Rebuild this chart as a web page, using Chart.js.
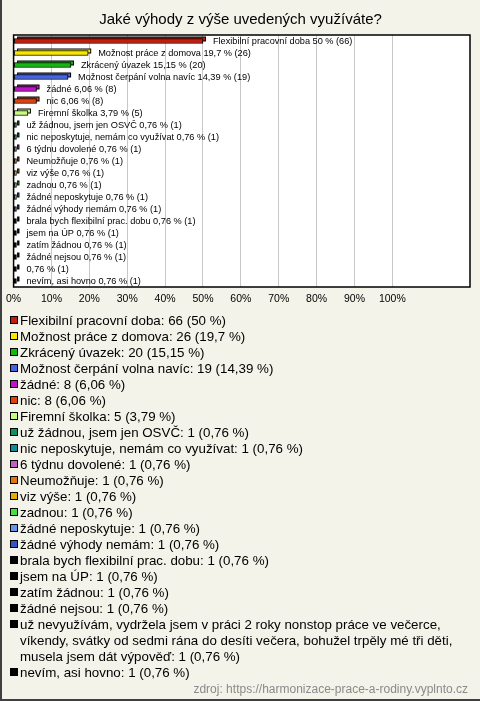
<!DOCTYPE html>
<html>
<head>
<meta charset="utf-8">
<script src="https://cdn.jsdelivr.net/npm/chart.js@4/dist/chart.umd.min.js"></script>
<style>
html, body { margin: 0; padding: 0; background: #f4f3ea; }
canvas { display: block; }
</style>
</head>
<body>
<canvas id="chart" width="480" height="701"></canvas>
<script>
const chartTitle = "Jaké výhody z výše uvedených využíváte?";
const sourceText = "zdroj: https://harmonizace-prace-a-rodiny.vyplnto.cz";

const categories = [
    "Flexibilní pracovní doba",
    "Možnost práce z domova",
    "Zkrácený úvazek",
    "Možnost čerpání volna navíc",
    "žádné",
    "nic",
    "Firemní školka",
    "už žádnou, jsem jen OSVČ",
    "nic neposkytuje, nemám co využívat",
    "6 týdnu dovolené",
    "Neumožňuje",
    "viz výše",
    "zadnou",
    "žádné neposkytuje",
    "žádné výhody nemám",
    "brala bych flexibilní prac. dobu",
    "jsem na ÚP",
    "zatím žádnou",
    "žádné nejsou",
    "už nevyužívám, vydržela jsem v práci 2 roky nonstop práce ve večerce, víkendy, svátky od sedmi rána do desíti večera, bohužel trpěly mé tři děti, musela jsem dát výpověď",
    "nevím, asi hovno"
];
const counts = [66, 26, 20, 19, 8, 8, 5, 1, 1, 1, 1, 1, 1, 1, 1, 1, 1, 1, 1, 1, 1];
const percents = [50, 19.7, 15.15, 14.39, 6.06, 6.06, 3.79, 0.76, 0.76, 0.76, 0.76, 0.76, 0.76, 0.76, 0.76, 0.76, 0.76, 0.76, 0.76, 0.76, 0.76];
const colors = [
    "#c41d0c", "#f8e600", "#10b810", "#4464e0", "#c010c8", "#e0400c", "#c8fa80",
    "#10905c", "#138a98", "#c060c4", "#e07414", "#e0b008", "#44e044", "#6c94e4",
    "#3454c4", "#000000", "#000000", "#000000", "#000000", "#000000", "#000000"
];
const tickValues = [0, 10, 20, 30, 40, 50, 60, 70, 80, 90, 100];

const fontFamily = '"Liberation Sans", Arial, sans-serif';

const fmt = function (p) {
    return String(p).replace(".", ",");
};

// page background, white plot area
const backgroundPlugin = {
    id: "background",
    beforeDraw(chart) {
        const { ctx, chartArea: a } = chart;
        ctx.save();
        ctx.fillStyle = "#f4f3ea";
        ctx.fillRect(0, 0, chart.width, chart.height);
        ctx.fillStyle = "#ffffff";
        ctx.fillRect(a.left, a.top, a.right - a.left, a.bottom - a.top);
        ctx.restore();
    }
};

// back face of each bar, gives the 3D look
const depthPlugin = {
    id: "depth",
    beforeDatasetsDraw(chart) {
        const ctx = chart.ctx;
        const meta = chart.getDatasetMeta(0);
        ctx.save();
        meta.data.forEach((bar, i) => {
            const h = bar.height;
            const x0 = bar.base + 3;
            const x1 = bar.x + 3;
            const y0 = bar.y - h / 2 - 2;
            ctx.fillStyle = "#000";
            ctx.fillRect(x0, y0, x1 - x0, h);
            ctx.fillStyle = colors[i];
            ctx.fillRect(x0 + 1, y0 + 1, x1 - x0 - 2, h - 2);
        });
        ctx.restore();
    }
};

const barLabelPlugin = {
    id: "barLabels",
    afterDatasetsDraw(chart) {
        const ctx = chart.ctx;
        const meta = chart.getDatasetMeta(0);
        ctx.save();
        ctx.font = "9.2px " + fontFamily;
        ctx.fillStyle = "#000";
        ctx.textBaseline = "middle";
        meta.data.forEach((bar, i) => {
            const name = categories[i].length > 60 ? "" : categories[i] + " ";
            ctx.fillText(name + fmt(percents[i]) + " % (" + counts[i] + ")", bar.x + 10, bar.y);
        });
        ctx.restore();
    }
};

const wrapText = function (ctx, text, maxWidth) {
    const words = text.split(" ");
    const lines = [];
    let line = "";
    words.forEach(w => {
        const test = line === "" ? w : line + " " + w;
        if (ctx.measureText(test).width > maxWidth && line !== "") {
            lines.push(line);
            line = w;
        } else {
            line = test;
        }
    });
    lines.push(line);
    return lines;
};

// plot border, legend below, source line, outer frame
const frameLegendPlugin = {
    id: "frameLegend",
    afterDraw(chart) {
        const { ctx, chartArea: a } = chart;
        ctx.save();
        ctx.strokeStyle = "#000";
        ctx.lineWidth = 1.5;
        ctx.strokeRect(a.left, a.top, a.right - a.left, a.bottom - a.top);

        ctx.font = "13.33px " + fontFamily;
        ctx.textBaseline = "middle";
        let y = 320;
        categories.forEach((c, i) => {
            const text = c + ": " + counts[i] + " (" + fmt(percents[i]) + " %)";
            const lines = wrapText(ctx, text, 444);
            ctx.fillStyle = "#000";
            ctx.fillRect(10, y - 4, 8, 8);
            ctx.fillStyle = colors[i];
            ctx.fillRect(11, y - 3, 6, 6);
            ctx.fillStyle = "#000";
            lines.forEach(l => {
                ctx.fillText(l, 20, y + 1);
                y += 16;
            });
        });

        ctx.font = "12px " + fontFamily;
        ctx.fillStyle = "#8a8a8a";
        ctx.textAlign = "right";
        ctx.fillText(sourceText, 468, 690);

        ctx.fillStyle = "#404040";
        ctx.fillRect(0, 0, 2, chart.height);
        ctx.fillRect(0, chart.height - 2, chart.width, 2);
        ctx.restore();
    }
};

Chart.defaults.font.family = fontFamily;
Chart.defaults.color = "#000";

const ctx = document.getElementById("chart").getContext("2d");
const chart = new Chart(ctx, {
    type: "bar",
    data: {
        labels: categories,
        datasets: [{
            data: percents,
            backgroundColor: colors,
            borderColor: "#000",
            borderWidth: 1,
            borderSkipped: false,
            barThickness: 5
        }]
    },
    options: {
        indexAxis: "y",
        responsive: false,
        animation: false,
        layout: { padding: { left: 11, right: 10, top: 0, bottom: 0 } },
        plugins: {
            legend: { display: false },
            tooltip: { enabled: false },
            title: {
                display: true,
                text: chartTitle,
                color: "#000",
                font: { size: 15, weight: "normal" },
                padding: { top: 11, bottom: 6 }
            }
        },
        scales: {
            x: {
                type: "linear",
                min: 0,
                max: 120.5,
                afterBuildTicks: (scale) => {
                    scale.ticks = tickValues.map(v => ({ value: v }));
                },
                afterFit: (scale) => {
                    scale.height = 701 - 287;
                },
                grid: { color: "#c8c8c8", drawTicks: false },
                border: { display: false },
                ticks: {
                    padding: 6,
                    font: { size: 10.5 },
                    color: "#000",
                    callback: (v) => v + "%"
                }
            },
            y: {
                display: false
            }
        }
    },
    plugins: [backgroundPlugin, depthPlugin, barLabelPlugin, frameLegendPlugin]
});
</script>
</body>
</html>
